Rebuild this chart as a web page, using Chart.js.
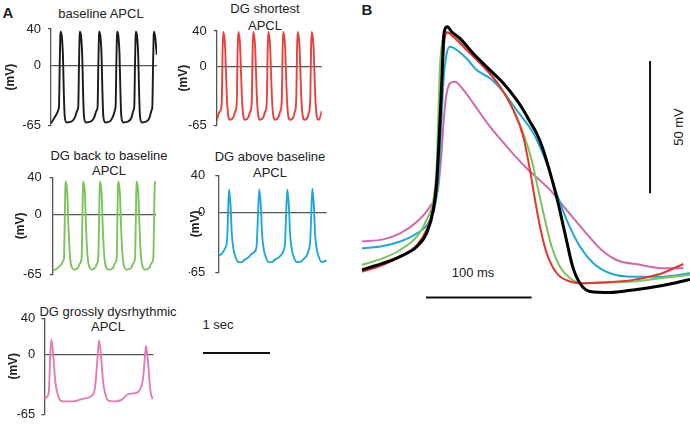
<!DOCTYPE html>
<html lang="en">
<head>
<meta charset="UTF-8" />
<title>APCL traces</title>
<style>
  body { margin: 0; background: #fff; font-family: 'Liberation Sans', Arial, sans-serif; color: #222; }
  #fig { position: relative; width: 690px; height: 428px; overflow: hidden; }
  #fig canvas { position: absolute; }
  .lbl { position: absolute; font-size: 13px; white-space: nowrap; text-align: center; transform: translate(-50%, -50%); }
  .letter { font-weight: bold; font-size: 15px; }
  .rot { transform: translate(-50%, -50%) rotate(-90deg); }
  .bar { position: absolute; background: #111; }
</style>
</head>
<body>
<div id="fig">
  <div class="lbl letter" style="left:8px;top:12px">A</div>
  <div class="lbl letter" style="left:367px;top:9px">B</div>
  <div class="lbl" style="left:101px;top:13px">baseline APCL</div>
  <div class="lbl" style="left:265px;top:17px;line-height:17px">DG shortest<br>APCL</div>
  <div class="lbl" style="left:109px;top:163px;line-height:15px">DG back to baseline<br>APCL</div>
  <div class="lbl" style="left:270px;top:165px;line-height:16px">DG above baseline<br>APCL</div>
  <div class="lbl" style="left:108px;top:319px;line-height:15px">DG grossly dysrhythmic<br>APCL</div>
  <div class="lbl" style="left:218px;top:324px">1 sec</div>
  <div class="bar" style="left:203px;top:352px;width:67px;height:2px"></div>
  <div class="lbl" style="left:473px;top:272px">100 ms</div>
  <div class="lbl rot" style="left:678px;top:127px">50 mV</div>
</div>

<script src="https://cdn.jsdelivr.net/npm/chart.js@4"></script>
<script>
  // panel A: time in ms, voltage in mV
  const yTicks = [-65, 0, 40];

  const baselineAPCL = [[0,-63],[50,-57],[95,-51],[110,-48],[119,-44],[129,0],[138,32],[144,37],[163,30],[178,9],[189,-26],[203,-55],[229,-62],[303,-61],[352,-57],[384,-50],
    [396,-48],[405,-44],[415,0],[424,32],[430,37],[449,30],[464,9],[475,-26],[489,-55],[515,-62],[589,-61],[638,-57],[670,-50],
    [683,-48],[692,-44],[702,0],[711,32],[717,37],[736,30],[751,9],[762,-26],[776,-55],[802,-62],[870,-61],[910,-57],[940,-51],
    [950,-48],[959,-44],[969,0],[978,32],[984,37],[1003,30],[1018,9],[1029,-26],[1043,-55],[1069,-62],[1143,-61],[1192,-57],[1218,-50],
    [1227,-48],[1236,-44],[1246,0],[1255,32],[1261,37],[1280,30],[1295,9],[1306,-26],[1320,-55],[1346,-62],[1415,-61],[1460,-57],[1487,-50],
    [1495,-48],[1504,-44],[1514,0],[1523,32],[1529,37],[1548,30],[1569,12]];

  const shortestAPCL = [[0,-60],[35,-51],[68,-46],[78,-30],[88,20],[98,39],[123,25],[138,-6],[153,-37],[173,-55],[198,-59],[248,-56],[273,-50],
    [291,-46],[301,-30],[311,20],[321,39],[346,25],[361,-6],[376,-37],[396,-55],[421,-59],[471,-56],[496,-50],
    [513,-46],[523,-30],[533,20],[543,39],[568,25],[583,-6],[598,-37],[618,-55],[643,-59],[693,-56],[718,-50],
    [736,-46],[746,-30],[756,20],[766,39],[791,25],[806,-6],[821,-37],[841,-55],[866,-59],[916,-56],[941,-50],
    [958,-46],[968,-30],[978,20],[988,39],[1013,25],[1028,-6],[1043,-37],[1063,-55],[1088,-59],[1138,-56],[1158,-50],
    [1172,-46],[1182,-30],[1192,20],[1202,39],[1227,25],[1242,-6],[1257,-37],[1277,-55],[1302,-59],[1350,-56],[1370,-50],
    [1380,-46],[1390,-30],[1400,20],[1410,39],[1435,25],[1450,-6],[1465,-37],[1485,-55],[1510,-59],[1540,-55],[1558,-49]];

  const backToBaselineAPCL = [[0,-61],[60,-59],[120,-55],[160,-50],
    [168,-47],[178,-10],[187,28],[193,36],[218,21],[228,-3],[243,-30],[262,-50],[287,-58],[317,-60],[376,-58],[405,-53],
    [429,-47],[439,-10],[448,28],[454,36],[479,21],[489,-3],[504,-30],[523,-50],[548,-58],[578,-60],[630,-58],[660,-53],
    [677,-47],[687,-10],[696,28],[702,36],[727,21],[737,-3],[752,-30],[771,-50],[796,-58],[826,-60],[895,-58],[925,-53],
    [949,-47],[959,-10],[968,28],[974,36],[999,21],[1009,-3],[1024,-30],[1043,-50],[1068,-58],[1098,-60],[1165,-58],[1195,-53],
    [1222,-47],[1232,-10],[1241,28],[1247,36],[1272,21],[1282,-3],[1297,-30],[1316,-50],[1341,-58],[1371,-60],[1435,-58],[1465,-53],
    [1493,-47],[1503,-10],[1512,28],[1518,36]];

  const aboveBaselineAPCL = [[0,-47],[50,-45],[100,-39],[130,-30],[145,0],[159,25],[184,5],[199,-22],[223,-39],[258,-49],[298,-54],[347,-54],[396,-51],[446,-49],[496,-45],[546,-42],[570,-35],[590,0],
    [608,25],[633,5],[648,-22],[672,-39],[707,-49],[747,-54],[796,-54],[845,-51],[895,-49],[945,-45],[975,-40],[990,-33],[1007,0],
    [1024,25],[1049,5],[1064,-22],[1088,-39],[1123,-49],[1163,-54],[1212,-54],[1261,-51],[1310,-47],[1345,-40],[1362,-33],[1380,0],
    [1395,26],[1420,5],[1435,-22],[1459,-39],[1494,-49],[1534,-54],[1580,-53],[1609,-52]];

  const dysrhythmicAPCL = [[0,-48],[40,-46],[70,-38],[85,-5],[104,17],[139,-6],[163,-29],[198,-43],[238,-50],[287,-51],[430,-51],[579,-48],[703,-45],[752,-36],[787,-6],
    [812,16],[847,-6],[871,-29],[906,-43],[946,-50],[1024,-51],[1123,-50],[1168,-48],[1242,-43],[1346,-42],[1420,-38],[1465,-26],[1490,-5],
    [1509,10],[1544,-12],[1568,-35],[1600,-47],[1618,-48]];

  // panel B: superimposed single action potentials, ms / mV
  const bBaseline = [[0,-51.9],[20,-49.4],[36,-46.9],[52,-43.1],[61,-38.1],[67.5,-29.3],[70.6,-19.2],[73.2,-0.3],[75.4,18.6],[77.6,37.5],[80.7,40],[84.8,38.1],[92.7,35.6],[105.3,29.9],[121.1,23.6],[133.7,18.6],[146.3,12.3],[152.6,8.5],[158.9,4.1],[165.2,-0.3],[171,-6],[176.3,-12.9],[184.8,-25.5],[192,-38.1],[199.3,-50.7],[206.2,-57],[215.7,-60.1],[234.6,-60.5],[256.7,-59.5],[278.8,-58.2],[294.5,-57],[310.3,-55.5]];
  const bShortest = [[0,-52.6],[20,-50],[36,-46.9],[52,-42.5],[61,-36.8],[67.5,-28],[71.3,-15.4],[73.8,2.2],[76.3,24.9],[78.5,36.2],[80.7,37.9],[86.4,36.2],[99,31.2],[114.8,24.9],[130.6,17.3],[143.2,8.5],[152.6,-1.6],[158.9,-14.2],[163.7,-25.5],[168.4,-35.6],[174.7,-45.6],[184.2,-53.2],[196.8,-56.3],[209.4,-57],[228.3,-56.7],[256.7,-55.7],[281.9,-53.5],[304,-49.7]];
  const bBackToBaseline = [[0,-50],[20,-47.5],[36,-44.4],[52,-39.3],[61,-33],[67.5,-25.5],[70.6,-12.9],[72.2,6],[73.8,24.9],[76.3,35],[80.1,37.7],[86.4,36.9],[99,31.8],[114.8,25.5],[130.6,17.3],[143.2,8.5],[152.6,-0.3],[160.5,-10.4],[166.8,-21.8],[173.1,-33],[179.4,-43.1],[187.3,-50.7],[196.8,-55.1],[209.4,-57],[228.3,-56.7],[256.7,-56.3],[281.9,-55.1],[310.3,-53.8]];
  const bAboveBaseline = [[0,-43.8],[20,-42.9],[36,-41.2],[52,-38.1],[64.3,-33],[70.6,-24.2],[73.2,-12.9],[75.4,6],[77.6,22.4],[80.1,29.9],[83.3,32.4],[89.6,31.2],[99,28],[108.5,23.6],[121.1,20.5],[133.7,15.4],[146.3,8.5],[162.1,-0.3],[174.7,-11.6],[184.2,-23],[193.6,-33],[206.2,-43.1],[218.9,-49.4],[234.6,-53.2],[256.7,-54.5],[281.9,-54.5],[310.3,-53.2]];
  const bDysrhythmic = [[0,-41.2],[20,-40.4],[36,-38.1],[52,-33.7],[64.3,-28],[72.2,-20.5],[75.4,-6.6],[77.6,6],[80.1,14.8],[83.3,18.6],[88,19.2],[95.9,16.1],[105.3,11],[121.1,2.2],[136.9,-5.3],[155.8,-13.5],[177.9,-21.7],[193.6,-29.3],[209.4,-36.8],[225.2,-43.8],[241,-48.2],[263,-50],[285.1,-51.3],[304,-51.3]];

  // scale bars for panel B: 100 ms horizontal, 50 mV vertical
  const timeBar = [[60.5,-62.4],[160.5,-62.4]];
  const voltBar = [[272.5,27],[272.5,-23]];

  const msPerPx = 1000 / 67.4;
  const font = "'Liberation Sans', Arial, sans-serif";
  Chart.defaults.font.family = font;

  const xy = arr => arr.map(p => ({ x: p[0], y: p[1] }));

  function makeCanvas(left, top, w, h) {
    const cv = document.createElement('canvas');
    cv.width = w; cv.height = h;
    cv.style.left = left + 'px'; cv.style.top = top + 'px';
    cv.style.width = w + 'px'; cv.style.height = h + 'px';
    document.getElementById('fig').appendChild(cv);
    return cv;
  }

  // box: canvas rect, axis x, y of 40 and -65, right end of zero line, centre of (mV) label
  function tracePanel(box, data, color) {
    const cv = makeCanvas(box.left, box.top, box.w, box.h);
    const scaleLeft = box.titleCx - 7.2;
    new Chart(cv, {
      type: 'line',
      data: {
        datasets: [{
          data: xy(data),
          borderColor: color,
          borderWidth: 1.9,
          pointRadius: 0,
          cubicInterpolationMode: 'monotone',
          fill: false
        }]
      },
      options: {
        responsive: false,
        animation: false,
        devicePixelRatio: 1,
        layout: {
          autoPadding: false,
          padding: {
            left: scaleLeft - box.left,
            top: box.yTop - box.top,
            right: box.left + box.w - box.right,
            bottom: box.top + box.h - box.yBot
          }
        },
        plugins: { legend: { display: false }, tooltip: { enabled: false } },
        scales: {
          x: { type: 'linear', display: false, min: 0, max: (box.right - box.axisX) * msPerPx },
          y: {
            min: -65, max: 40,
            afterBuildTicks: s => { s.ticks = yTicks.map(v => ({ value: v })); },
            afterFit: s => { s.width = box.axisX - scaleLeft; },
            ticks: { color: '#222', font: { size: 13 }, padding: box.tickPad, callback: v => String(v) },
            grid: {
              color: c => (c.tick && c.tick.value === 0) ? '#555' : 'rgba(0,0,0,0)',
              tickColor: c => (c.tick && c.tick.value === 0) ? 'rgba(0,0,0,0)' : '#555',
              tickLength: 3,
              lineWidth: 1.3
            },
            border: { display: true, color: '#555', width: 1.3 },
            title: { display: true, text: '(mV)', color: '#222', font: { size: 12, weight: 'bold' }, padding: 0 }
          }
        }
      }
    });
  }

  tracePanel({ left: 0, top: 0, w: 170, h: 140, axisX: 51, yTop: 29, yBot: 128, right: 157, titleCx: 11, tickPad: 7 }, baselineAPCL, '#1a1a1a');
  tracePanel({ left: 170, top: 0, w: 170, h: 140, axisX: 216.7, yTop: 31, yBot: 131.7, right: 321.7, titleCx: 184, tickPad: 7 }, shortestAPCL, '#e8413c');
  tracePanel({ left: 0, top: 140, w: 170, h: 150, axisX: 52.7, yTop: 177.7, yBot: 281.7, right: 156, titleCx: 21, tickPad: 8 }, backToBaselineAPCL, '#7cc35b');
  tracePanel({ left: 170, top: 140, w: 170, h: 150, axisX: 218.3, yTop: 175.7, yBot: 279, right: 326.7, titleCx: 196, tickPad: 10 }, aboveBaselineAPCL, '#1ea8d8');
  tracePanel({ left: 0, top: 290, w: 170, h: 138, axisX: 44.3, yTop: 318.3, yBot: 421.7, right: 153.3, titleCx: 14, tickPad: 6 }, dysrhythmicAPCL, '#e27bb9');

  // panel B fills its own canvas, no visible axes
  const cvB = makeCanvas(350, 0, 340, 428);
  const trace = (d, c, w) => ({ data: xy(d), borderColor: c, borderWidth: w, pointRadius: 0, cubicInterpolationMode: 'monotone', fill: false });
  const bar = d => ({ data: xy(d), borderColor: '#111', borderWidth: 2, pointRadius: 0, tension: 0, fill: false });
  new Chart(cvB, {
    type: 'line',
    data: {
      datasets: [
        trace(bBaseline, '#000000', 3),
        trace(bShortest, '#e8342f', 2),
        trace(bBackToBaseline, '#7cc35b', 2),
        trace(bAboveBaseline, '#1ea8d8', 2),
        trace(bDysrhythmic, '#d466ac', 2),
        bar(timeBar),
        bar(voltBar)
      ]
    },
    options: {
      responsive: false,
      animation: false,
      devicePixelRatio: 1,
      layout: { autoPadding: false, padding: 0 },
      plugins: { legend: { display: false }, tooltip: { enabled: false } },
      scales: {
        x: { type: 'linear', display: false, min: -11.35, max: 310.3 },
        y: { display: false, min: -111.7, max: 50.1 }
      }
    }
  });
</script>
</body>
</html>
